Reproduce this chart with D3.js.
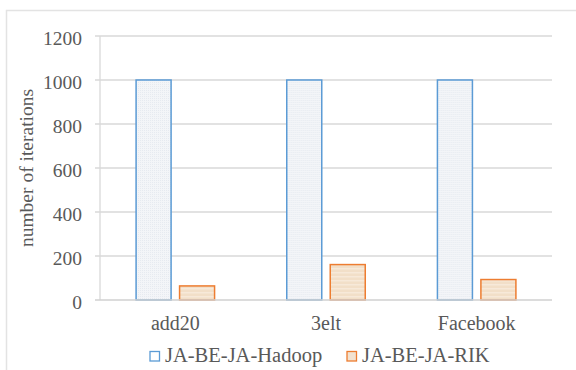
<!DOCTYPE html>
<html>
<head>
<meta charset="utf-8">
<script src="https://cdn.jsdelivr.net/npm/d3@7"></script>
<style>
  html, body { margin: 0; padding: 0; background: #ffffff; }
  svg { display: block; }
  text { fill: #595959; }
</style>
</head>
<body>
<svg id="chart" width="576" height="370"></svg>
<script>
// Iterations needed by each partitioning method, per graph
const categories = ["add20", "3elt", "Facebook"];
const seriesNames = ["JA-BE-JA-Hadoop", "JA-BE-JA-RIK"];
const hadoopValues = [1000, 1000, 1000];
const rikValues = [64, 161, 93];
const yTicks = [0, 200, 400, 600, 800, 1000, 1200];
const yTitle = "number of iterations";

const seriesValues = [hadoopValues, rikValues];
const strokeColors = ["#5b9bd5", "#ed7d31"];
const fontFamily = "'Liberation Serif', 'Times New Roman', Tinos, 'DejaVu Serif', serif";

const svg = d3.select("#chart").attr("font-family", fontFamily);
const defs = svg.append("defs");

// Light dotted fill for the Hadoop bars
const pBlue = defs.append("pattern").attr("id", "fillBlue")
  .attr("patternUnits", "userSpaceOnUse").attr("width", 2).attr("height", 2);
pBlue.append("rect").attr("width", 2).attr("height", 2).attr("fill", "#f3f5f8");
pBlue.append("rect").attr("width", 1).attr("height", 1).attr("fill", "#e6eaf0");

// Light striped fill for the RIK bars
const pOrange = defs.append("pattern").attr("id", "fillOrange")
  .attr("patternUnits", "userSpaceOnUse").attr("width", 4).attr("height", 4);
pOrange.append("rect").attr("width", 4).attr("height", 4).attr("fill", "#f2dfc8");
pOrange.append("rect").attr("width", 4).attr("height", 1.5).attr("fill", "#f7e9d9");

const fills = ["url(#fillBlue)", "url(#fillOrange)"];

// Outer frame (left and top edges)
svg.append("path")
  .attr("d", "M6.5,370 V10.5 H576")
  .attr("fill", "none").attr("stroke", "#e3e3e3").attr("stroke-width", 1.5);

const plotLeft = 100, plotRight = 552, plotTop = 36, plotBottom = 300;

const y = d3.scaleLinear().domain([0, 1200]).range([plotBottom, plotTop]);
const x0 = d3.scaleBand().domain(categories).range([plotLeft, plotRight]).padding(0);
const x1 = d3.scaleBand().domain(seriesNames).range([0, x0.bandwidth()])
  .paddingInner(0.195).paddingOuter(0.83);

// Horizontal gridlines with short tick stubs
svg.append("g").selectAll("line").data(yTicks.filter(t => t > 0)).join("line")
  .attr("x1", plotLeft - 5).attr("x2", plotRight)
  .attr("y1", d => y(d)).attr("y2", d => y(d))
  .attr("stroke", "#d9d9d9").attr("stroke-width", 1.3);

// Y tick labels
svg.append("g").selectAll("text").data(yTicks).join("text")
  .attr("x", 82).attr("y", d => y(d) + 9)
  .attr("text-anchor", "end").attr("font-size", 19.5)
  .text(d => d);

// Bars
const groups = svg.append("g").selectAll("g").data(categories).join("g")
  .attr("transform", d => `translate(${x0(d)},0)`);
seriesNames.forEach((name, si) => {
  groups.append("rect")
    .attr("x", x1(name))
    .attr("width", x1.bandwidth())
    .attr("y", (d, i) => y(seriesValues[si][i]))
    .attr("height", (d, i) => y(0) - y(seriesValues[si][i]))
    .attr("fill", fills[si])
    .attr("stroke", strokeColors[si]).attr("stroke-width", 1.5);
});

// Y axis line and baseline
svg.append("line").attr("x1", plotLeft).attr("x2", plotLeft).attr("y1", plotTop).attr("y2", plotBottom)
  .attr("stroke", "#d9d9d9").attr("stroke-width", 1.3);
svg.append("line").attr("x1", plotLeft - 5).attr("x2", plotRight).attr("y1", plotBottom).attr("y2", plotBottom)
  .attr("stroke", "#d0d0d0").attr("stroke-width", 1.5);

// Category labels
svg.append("g").selectAll("text").data(categories).join("text")
  .attr("x", d => x0(d) + x0.bandwidth() / 2)
  .attr("y", 330)
  .attr("text-anchor", "middle").attr("font-size", 20)
  .text(d => d);

// Y axis title
svg.append("text")
  .attr("transform", `translate(33,${(plotTop + plotBottom) / 2}) rotate(-90)`)
  .attr("text-anchor", "middle").attr("font-size", 19.5)
  .text(yTitle);

// Legend
const legendX = [150, 347];
const legend = svg.append("g").selectAll("g").data(seriesNames).join("g")
  .attr("transform", (d, i) => `translate(${legendX[i]},351.5)`);
legend.append("rect")
  .attr("width", 9.5).attr("height", 9.5)
  .attr("fill", (d, i) => i === 0 ? "#ffffff" : "#f2e2d0")
  .attr("stroke", (d, i) => strokeColors[i]).attr("stroke-width", 1.3);
legend.append("text")
  .attr("x", 15).attr("y", 10)
  .attr("font-size", 20.5)
  .text(d => d);
</script>
</body>
</html>
